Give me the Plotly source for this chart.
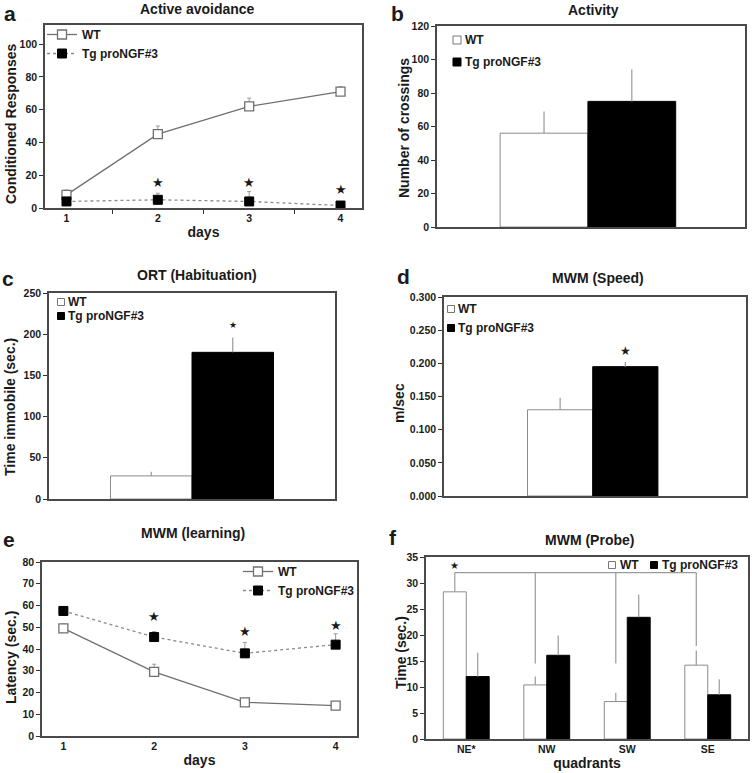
import plotly.graph_objects as go

W, H = 752, 773

# ---------------- data ----------------
# a: Active avoidance
days = ["1", "2", "3", "4"]
a_wt = [8, 45, 62, 71]
a_wt_err = [3, 5, 5, 3]
a_tg = [4, 5, 4, 1.5]
a_tg_err = [1, 4, 6, 1.5]
a_star_y = [None, 15.3, 15.3, 11]

# b: Activity
b_wt = [56]
b_wt_err = [13]
b_tg = [75]
b_tg_err = [19]

# c: ORT (Habituation)
c_wt = [28]
c_wt_err = [5]
c_tg = [178]
c_tg_err = [18]
c_star_y = 211

# d: MWM (Speed)
d_wt = [0.130]
d_wt_err = [0.018]
d_tg = [0.195]
d_tg_err = [0.007]
d_star_y = 0.218

# e: MWM (learning)
e_wt = [49.5, 29.5, 15.5, 14]
e_wt_err = [2, 3.5, 1.5, 1]
e_tg = [57.5, 45.5, 38, 42]
e_tg_err = [1.5, 2.5, 5, 5]
e_star_y = [None, 55, 48, 51]

# f: MWM (Probe)
quads = ["NE*", "NW", "SW", "SE"]
f_wt = [28.3, 10.4, 7.2, 14.2]
f_wt_err = [3.2, 1.6, 1.7, 2.8]
f_tg = [12, 16.1, 23.4, 8.5]
f_tg_err = [4.6, 3.8, 4.4, 3.0]
f_bracket_y = 32.0
f_bracket_end = [31.5, 14.5, 14.5, 17.9]
f_star_y = 33.4

WT_NAME = "WT"
TG_NAME = "Tg proNGF#3"

FONT = "Liberation Sans, Arial, sans-serif"
INK = "#1a1a1a"
ERR = "#9a9a9a"
BARGAP = 0.43


def xd(x0, x1):
    return [x0 / W, x1 / W]


def yd(top, bottom):
    return [1 - bottom / H, 1 - top / H]


fig = go.Figure()


def line_pair(xa, ya, wt, wt_err, tg, tg_err, legend):
    fig.add_trace(go.Scatter(
        x=days, y=wt, name=WT_NAME, mode="lines+markers", xaxis=xa, yaxis=ya,
        legend=legend,
        line=dict(color="#707070", width=1.3),
        marker=dict(symbol="square", size=9, color="white",
                    line=dict(color="#707070", width=1.3)),
        error_y=dict(type="data", array=wt_err, arrayminus=[0] * len(wt_err),
                     symmetric=False, color=ERR, thickness=1, width=2)))
    fig.add_trace(go.Scatter(
        x=days, y=tg, name=TG_NAME, mode="lines+markers", xaxis=xa, yaxis=ya,
        legend=legend,
        line=dict(color="#8a8a8a", width=1.3, dash="dot"),
        marker=dict(symbol="square", size=9, color="black",
                    line=dict(color="black", width=1)),
        error_y=dict(type="data", array=tg_err, arrayminus=[0] * len(tg_err),
                     symmetric=False, color=ERR, thickness=1, width=2)))


def bar_pair(xa, ya, x, wt, wt_err, tg, tg_err):
    fig.add_trace(go.Bar(
        x=x, y=wt, name=WT_NAME, xaxis=xa, yaxis=ya, showlegend=False,
        marker=dict(color="white", line=dict(color="#8c8c8c", width=1)),
        error_y=dict(type="data", array=wt_err, arrayminus=[0] * len(wt_err),
                     symmetric=False, color=ERR, thickness=1.2, width=0)))
    fig.add_trace(go.Bar(
        x=x, y=tg, name=TG_NAME, xaxis=xa, yaxis=ya, showlegend=False,
        marker=dict(color="black", line=dict(color="black", width=1)),
        error_y=dict(type="data", array=tg_err, arrayminus=[0] * len(tg_err),
                     symmetric=False, color=ERR, thickness=1.2, width=0)))


line_pair("x", "y", a_wt, a_wt_err, a_tg, a_tg_err, "legend")
bar_pair("x2", "y2", [0], b_wt, b_wt_err, b_tg, b_tg_err)
bar_pair("x3", "y3", [0], c_wt, c_wt_err, c_tg, c_tg_err)
bar_pair("x4", "y4", [0], d_wt, d_wt_err, d_tg, d_tg_err)
line_pair("x5", "y5", e_wt, e_wt_err, e_tg, e_tg_err, "legend2")
bar_pair("x6", "y6", quads, f_wt, f_wt_err, f_tg, f_tg_err)

tickfont = dict(family=FONT, size=10.5, color=INK, weight="bold")
titlefont = dict(family=FONT, size=14, color=INK, weight="bold")


def yax(domain, rng, dtick, fmt=None):
    d = dict(domain=domain, range=rng, dtick=dtick, tick0=0, automargin=False,
             showgrid=False, zeroline=False, showline=True, mirror=True,
             linecolor="#4a4a4a", linewidth=1.5, ticks="outside", ticklen=4,
             tickcolor="#333", tickwidth=1.2, tickfont=tickfont)
    if fmt:
        d["tickformat"] = fmt
    return d


def xax(domain, anchor, title="", showlabels=True, rng=None, ticks="",
        tickson=None, standoff=4):
    d = dict(domain=domain, anchor=anchor, showgrid=False, zeroline=False,
             automargin=False,
             showline=True, mirror=True, linecolor="#4a4a4a", linewidth=1.5,
             ticks=ticks, ticklen=4, tickcolor="#333", tickwidth=1.2,
             showticklabels=showlabels, tickfont=tickfont,
             title=dict(text=title, font=titlefont, standoff=standoff))
    if rng is not None:
        d["range"] = rng
    if tickson:
        d["tickson"] = tickson
    return d


layout = dict(
    width=W, height=H, margin=dict(l=0, r=0, t=0, b=0, autoexpand=False),
    paper_bgcolor="white", plot_bgcolor="white",
    barmode="group", bargap=BARGAP, bargroupgap=0,
    font=dict(family=FONT, color=INK),
    xaxis=xax(xd(45, 362), "y", "days", ticks="outside", tickson="boundaries"),
    yaxis=yax(yd(25, 208), [0, 111.6], 20),
    xaxis2=xax(xd(437, 745), "y2", showlabels=False, rng=[-0.49, 0.51]),
    yaxis2=dict(yax(yd(26, 227), [0, 120], 20), anchor="x2"),
    xaxis3=xax(xd(49, 335), "y3", showlabels=False, rng=[-0.5, 0.5]),
    yaxis3=dict(yax(yd(293, 499), [0, 250], 50), anchor="x3"),
    xaxis4=xax(xd(444, 746), "y4", showlabels=False, rng=[-0.65, 0.67]),
    yaxis4=dict(yax(yd(297, 496), [0, 0.3], 0.05, fmt=".3f"), anchor="x4"),
    xaxis5=xax(xd(42, 357), "y5", "days"),
    yaxis5=dict(yax(yd(562, 736), [0, 80], 10), anchor="x5"),
    xaxis6=xax(xd(426, 748), "y6", "quadrants", standoff=2),
    yaxis6=dict(yax(yd(557, 739), [0, 35], 5), anchor="x6"),
)

legfont = dict(family=FONT, size=12, color=INK, weight="bold")


def leg(x, y):
    return dict(x=x / W, y=1 - y / H, xanchor="left", yanchor="top",
                bgcolor="rgba(0,0,0,0)", font=legfont, itemwidth=30)


layout["legend"] = leg(42, 20)
layout["legend2"] = leg(238, 557)
fig.update_layout(**layout)

# ---------------- annotations ----------------
ann = []
shapes = []
titles = [("Active avoidance", 197, 9), ("Activity", 593, 10),
          ("ORT (Habituation)", 197, 275), ("MWM (Speed)", 598, 278),
          ("MWM (learning)", 193, 533), ("MWM (Probe)", 589, 540)]
for t, x, y in titles:
    ann.append(dict(text=t, x=x / W, y=1 - y / H, xref="paper", yref="paper",
                    showarrow=False, xanchor="center", yanchor="middle",
                    font=dict(family=FONT, size=14, color=INK, weight="bold")))

# y-axis titles (rotated), placed next to each panel's tick labels
ytitles = [("Conditioned Responses", 11, 124), ("Number of crossings", 404, 128),
           ("Time immobile (sec.)", 10, 407), ("m/sec", 399, 403),
           ("Latency (sec.)", 11, 658), ("Time (sec.)", 401, 653)]
for t, x, y in ytitles:
    ann.append(dict(text=t, x=x / W, y=1 - y / H, xref="paper", yref="paper",
                    showarrow=False, xanchor="center", yanchor="middle",
                    textangle=-90, font=titlefont))

letters = [("a", 10, 13), ("b", 397, 13), ("c", 8, 278),
           ("d", 403, 276), ("e", 9, 539), ("f", 393, 537)]
for t, x, y in letters:
    ann.append(dict(text=t, x=x / W, y=1 - y / H, xref="paper", yref="paper",
                    showarrow=False, xanchor="center", yanchor="middle",
                    font=dict(family=FONT, size=21, color=INK, weight="bold")))

# legends of the bar panels: small square swatch + bold label
# (square centre x, centre y, size, text left x)
bar_legends = [
    [(457, 40, 8, 463, WT_NAME, "white"), (457, 62, 8, 463, TG_NAME, "black")],
    [(61, 302, 7, 66, WT_NAME, "white"), (61, 316, 7, 66, TG_NAME, "black")],
    [(451, 309, 7, 456, WT_NAME, "white"), (451, 328, 7, 456, TG_NAME, "black")],
    [(612, 565, 7, 618, WT_NAME, "white"), (654, 565, 7, 660, TG_NAME, "black")],
]
for entries in bar_legends:
    for cx, cy, s, tx, name, fill in entries:
        shapes.append(dict(type="rect", xref="paper", yref="paper",
                           x0=(cx - s / 2) / W, x1=(cx + s / 2) / W,
                           y0=1 - (cy + s / 2) / H, y1=1 - (cy - s / 2) / H,
                           fillcolor=fill,
                           line=dict(color="#777" if fill == "white" else "black",
                                     width=1)))
        ann.append(dict(text=name, x=tx / W, y=1 - cy / H, xref="paper", yref="paper",
                        showarrow=False, xanchor="left", yanchor="middle",
                        font=legfont))

star_font = dict(family="DejaVu Sans", color=INK)
for i, sy in enumerate(a_star_y):
    if sy is not None:
        ann.append(dict(text="★", x=i, y=sy, xref="x", yref="y", showarrow=False,
                        font=dict(star_font, size=13)))
for i, sy in enumerate(e_star_y):
    if sy is not None:
        ann.append(dict(text="★", x=i, y=sy, xref="x5", yref="y5", showarrow=False,
                        font=dict(star_font, size=13)))

half = (1 - BARGAP) / 4  # offset of each bar centre from the category centre
ann.append(dict(text="★", x=half, y=c_star_y, xref="x3", yref="y3",
                showarrow=False, font=dict(star_font, size=9)))
ann.append(dict(text="★", x=half, y=d_star_y, xref="x4", yref="y4",
                showarrow=False, font=dict(star_font, size=12)))
ann.append(dict(text="★", x=-half, y=f_star_y, xref="x6", yref="y6",
                showarrow=False, font=dict(star_font, size=10)))

# bracket in panel f
shapes.append(dict(type="line", xref="x6", yref="y6", x0=-half,
                   x1=len(quads) - 1 - half, y0=f_bracket_y, y1=f_bracket_y,
                   line=dict(color=ERR, width=1.2)))
for i, yend in enumerate(f_bracket_end):
    shapes.append(dict(type="line", xref="x6", yref="y6", x0=i - half, x1=i - half,
                       y0=f_bracket_y, y1=yend, line=dict(color=ERR, width=1.2)))

fig.update_layout(annotations=ann, shapes=shapes)

fig.write_html(
    "out.html",
    config={"displayModeBar": False},
    post_script=("document.body.style.margin='0';"
                 "var g=document.getElementById('{plot_id}');"
                 "g.style.position='absolute';g.style.left='0px';g.style.top='0px';"))
